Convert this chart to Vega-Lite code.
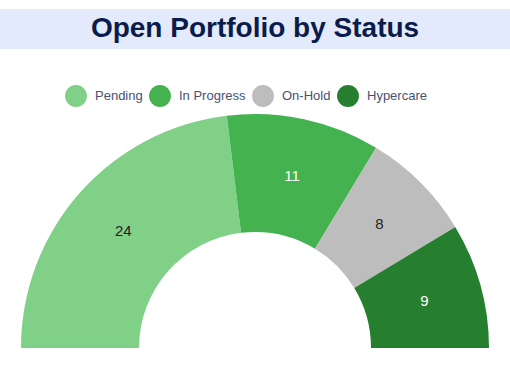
{
  "$schema": "https://vega.github.io/schema/vega-lite/v6.json",
  "padding": {"top": 9, "left": 0, "right": 0, "bottom": 0},
  "spacing": 0,
  "background": "white",
  "datasets": {
    "title": [{"text": "Open Portfolio by Status"}],
    "status": [
      {"status": "Pending", "count": 24, "order": 1},
      {"status": "In Progress", "count": 11, "order": 2},
      {"status": "On-Hold", "count": 8, "order": 3},
      {"status": "Hypercare", "count": 9, "order": 4}
    ]
  },
  "resolve": {"scale": {"color": "independent"}, "legend": {"color": "independent"}},
  "vconcat": [
    {
      "width": 510,
      "height": 40,
      "view": {"fill": "#e3eafb", "stroke": null},
      "data": {"name": "title"},
      "mark": {"type": "text", "font": "Liberation Sans", "fontWeight": "bold", "fontSize": 28, "color": "#0b1c4c", "baseline": "middle", "align": "center", "dy": 0},
      "encoding": {"text": {"field": "text"}}
    },
    {
      "width": 510,
      "height": 299,
      "view": {"stroke": null},
      "data": {"name": "status"},
      "encoding": {
        "theta": {"field": "count", "type": "quantitative", "stack": true, "scale": {"range": [-1.5707963, 1.5707963]}},
        "order": {"field": "order", "type": "quantitative"},
        "y": {"value": "height"}
      },
      "layer": [
        {
          "mark": {"type": "arc", "outerRadius": 234, "innerRadius": 116, "stroke": null},
          "encoding": {
            "color": {
              "field": "status",
              "type": "nominal",
              "scale": {"domain": ["Pending", "In Progress", "On-Hold", "Hypercare"], "range": ["#81d088", "#43b24f", "#bdbdbd", "#267f2f"]},
              "legend": {
                "title": null,
                "orient": "none",
                "direction": "horizontal",
                "legendX": 65,
                "legendY": 36,
                "symbolType": "circle",
                "symbolSize": 480,
                "symbolStrokeWidth": 0,
                "labelFont": "Liberation Sans",
                "labelFontSize": 13,
                "labelColor": "#475173",
                "labelOffset": 8,
                "columnPadding": 6,
                "padding": 0
              }
            }
          }
        },
        {
          "mark": {"type": "text", "radius": 176, "font": "Liberation Sans", "fontSize": 15, "baseline": "middle", "align": "center"},
          "encoding": {
            "text": {"field": "count", "type": "quantitative"},
            "color": {
              "condition": {"test": "datum.status === 'In Progress' || datum.status === 'Hypercare'", "value": "#ffffff"},
              "value": "#222222"
            }
          }
        }
      ]
    }
  ]
}
